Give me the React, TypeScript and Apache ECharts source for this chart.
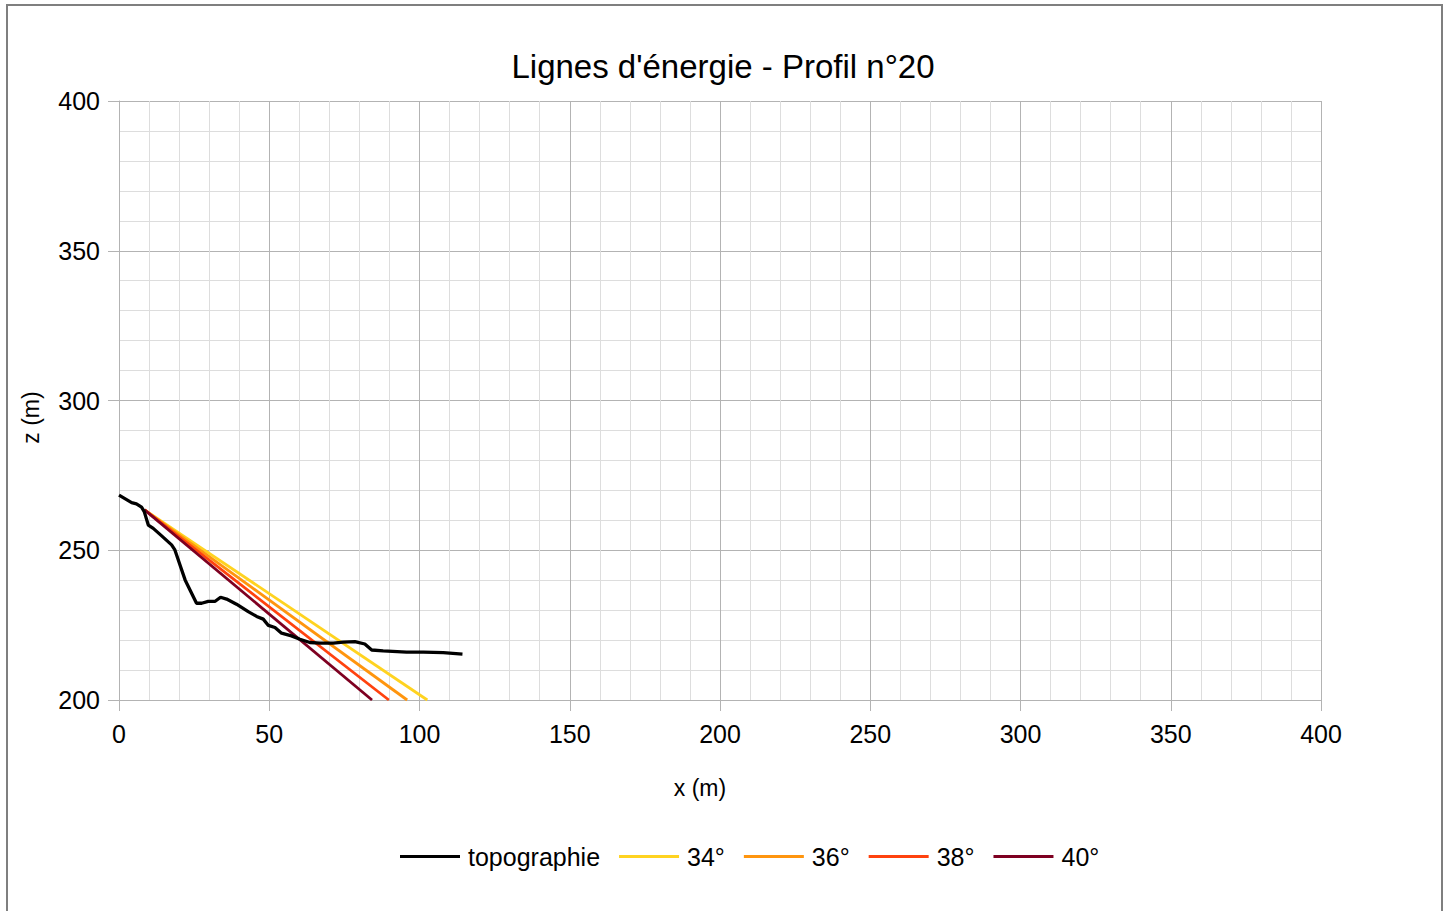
import React, { useEffect, useRef } from "react";
import * as echarts from "echarts";

const titleText = "Lignes d'énergie - Profil n°20";
const xAxisName = "x (m)";
const yAxisName = "z (m)";

const topoX = [0, 4.2, 5.8, 7.5, 8.4, 9.75, 11.4, 14.2, 17.5, 18.6, 20.3, 22, 25.8, 27.5, 29.7, 31.9, 33.8, 35.8, 39.1, 43, 45.8, 48, 49.7, 51.9, 54.1, 57.4, 60.2, 63.5, 66.9, 71.3, 74.6, 78.5, 81.8, 84.1, 87.9, 95.7, 101.3, 107.9, 114.3];
const topoZ = [268.4, 265.9, 265.5, 264.4, 262.9, 258.4, 257.3, 254.8, 251.8, 250.1, 245.1, 240.1, 232.3, 232.3, 232.9, 232.9, 234.3, 233.7, 232.0, 229.5, 227.9, 227.0, 224.9, 224.2, 222.3, 221.4, 220.3, 219.2, 219.0, 219.0, 219.3, 219.5, 218.7, 216.7, 216.4, 216.0, 216.0, 215.8, 215.3];

const energyNames = ["34°", "36°", "38°", "40°"];
const energyColors = ["#ffd320", "#ff950e", "#ff420e", "#7e0021"];
const energyStart = [8.5, 263.5];
const energyEndX = [102.6, 95.9, 89.8, 84.2];
const energyEndZ = [200, 200, 200, 200];

export default function App() {
  const ref = useRef<HTMLDivElement>(null);
  useEffect(() => {
    if (!ref.current) return;
    const chart = echarts.init(ref.current, null, { renderer: "svg" });
    const font = "'Liberation Sans', Arial, sans-serif";
    const series: any[] = [
      {
        name: "topographie",
        type: "line",
        data: topoX.map((x, i) => [x, topoZ[i]]),
        showSymbol: false,
        lineStyle: { color: "#000000", width: 3.3 },
        itemStyle: { color: "#000000" },
        z: 5,
      },
      ...energyNames.map((n, i) => ({
        name: n,
        type: "line",
        data: [energyStart, [energyEndX[i], energyEndZ[i]]],
        showSymbol: false,
        lineStyle: { color: energyColors[i], width: 2.8 },
        itemStyle: { color: energyColors[i] },
        z: 4,
      })),
    ];
    chart.setOption({
      animation: false,
      backgroundColor: "#ffffff",
      textStyle: { fontFamily: font },
      title: {
        text: titleText,
        left: "center",
        top: 45,
        textStyle: { fontFamily: font, fontSize: 33, fontWeight: "normal", color: "#000000" },
      },
      graphic: [
        {
          type: "rect",
          shape: { x: 7, y: 5, width: 1435, height: 1000 },
          style: { fill: "none", stroke: "#7f7f7f", lineWidth: 2 },
          silent: true,
        },
      ],
      legend: {
        left: 400,
        top: 844,
        padding: 0,
        icon: "rect",
        itemWidth: 60,
        itemHeight: 3,
        itemGap: 19,
        textStyle: { fontFamily: font, fontSize: 25, color: "#000000", padding: [0, 0, 0, 3] },
        data: ["topographie", ...energyNames],
      },
      grid: { left: 119, top: 101, right: 125, bottom: 211 },
      xAxis: {
        type: "value",
        min: 0,
        max: 400,
        interval: 50,
        name: xAxisName,
        nameLocation: "middle",
        nameGap: 76,
        nameTextStyle: { fontFamily: font, fontSize: 23, color: "#000000", padding: [0, 40, 0, 0] },
        axisLine: { show: true, lineStyle: { color: "#b3b3b3", width: 1 } },
        axisTick: { show: true, length: 11, lineStyle: { color: "#b3b3b3" } },
        axisLabel: { fontFamily: font, fontSize: 25, color: "#000000", margin: 21 },
        splitLine: { show: true, lineStyle: { color: "#b3b3b3", width: 1 } },
        minorTick: { show: false, splitNumber: 5 },
        minorSplitLine: { show: true, lineStyle: { color: "#dddddd", width: 1 } },
      },
      yAxis: {
        type: "value",
        min: 200,
        max: 400,
        interval: 50,
        name: yAxisName,
        nameLocation: "middle",
        nameGap: 77,
        nameTextStyle: { fontFamily: font, fontSize: 23, color: "#000000", padding: [0, 34, 0, 0] },
        axisLine: { show: true, lineStyle: { color: "#b3b3b3", width: 1 } },
        axisTick: { show: true, length: 11, lineStyle: { color: "#b3b3b3" } },
        axisLabel: { fontFamily: font, fontSize: 25, color: "#000000", margin: 19 },
        splitLine: { show: true, lineStyle: { color: "#b3b3b3", width: 1 } },
        minorTick: { show: false, splitNumber: 5 },
        minorSplitLine: { show: true, lineStyle: { color: "#dddddd", width: 1 } },
      },
      series,
    });
    return () => chart.dispose();
  }, []);
  return (
    <div
      ref={ref}
      style={{ position: "absolute", left: 0, top: 0, width: 1446, height: 911 }}
    />
  );
}
